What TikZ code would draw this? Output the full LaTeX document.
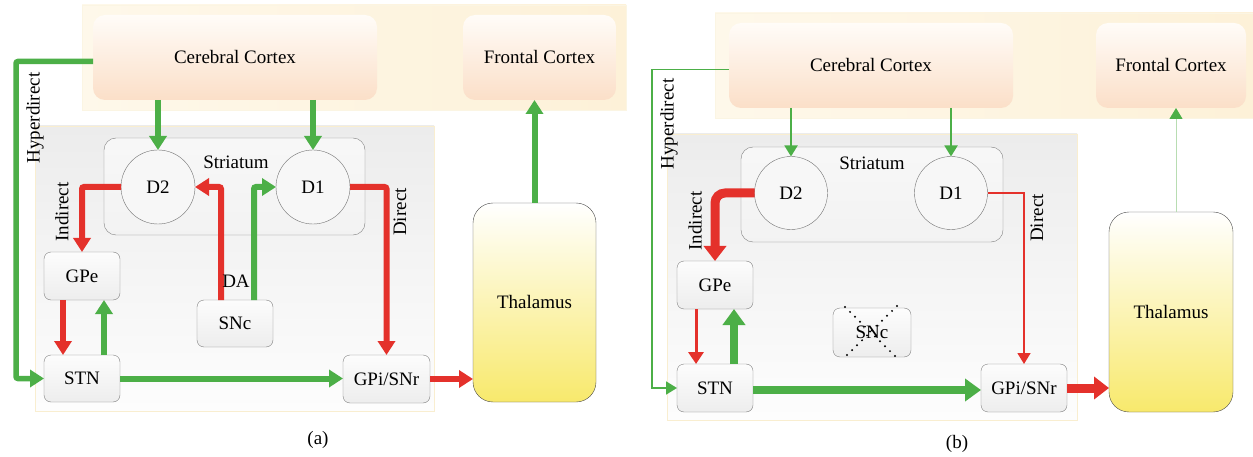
\documentclass[tikz,border=0pt]{standalone}
\usepackage{fontspec}
\setmainfont{Liberation Serif}
\usetikzlibrary{arrows.meta}
\definecolor{gr}{HTML}{4CAF47}
\definecolor{rd}{HTML}{E4312B}
\definecolor{lgr}{HTML}{B8DDB2}
\definecolor{bandL}{HTML}{FEF8EA}
\definecolor{bandR}{HTML}{FDF1D8}
\definecolor{ctxT}{HTML}{FFFCF8}
\definecolor{ctxB}{HTML}{FBDFC8}
\definecolor{thB}{HTML}{F8E96C}
\definecolor{bgT}{HTML}{ECECEC}
\definecolor{bgB}{HTML}{FDFDFD}
\definecolor{bgD}{HTML}{F9EED0}
\newcommand\labfont{\fontsize{19}{22}\selectfont}
\tikzset{
  band/.style={draw=bgD!60, left color=bandL, right color=bandR, inner sep=0pt, outer sep=0pt},
  ctx/.style={rounded corners=12pt, top color=ctxT, bottom color=ctxB, draw=none, inner sep=0pt, outer sep=0pt, font=\labfont},
  bgbox/.style={top color=bgT, bottom color=bgB, draw=bgD, inner sep=0pt, outer sep=0pt},
  stri/.style={rounded corners=12pt, top color=black!3, bottom color=black!5, draw=black!50, inner sep=0pt, outer sep=0pt},
  circ/.style={circle, fill=white!97!black, draw=black!55, inner sep=0pt, outer sep=0pt, minimum size=74pt, font=\labfont},
  bx/.style={rounded corners=7pt, top color=black!1, bottom color=black!7, draw=black!50, inner sep=0pt, outer sep=0pt, font=\labfont},
  thal/.style={rounded corners=20pt, top color=white, bottom color=thB, draw=black!70, inner sep=0pt, outer sep=0pt, font=\labfont},
  lab/.style={font=\labfont, inner sep=0pt},
  ga/.style={draw=gr, line width=6pt, rounded corners=2pt, -{Triangle[length=14pt,width=17pt]}},
  ra/.style={draw=rd, line width=6pt, rounded corners=2pt, -{Triangle[length=14pt,width=17pt]}},
  gthin/.style={draw=gr, line width=1.8pt, -{Triangle[length=11pt,width=13pt]}},
  rthin/.style={draw=rd, line width=1.5pt, -{Triangle[length=11pt,width=13pt]}},
  gfat/.style={draw=gr, line width=8.5pt, -{Triangle[length=16pt,width=22pt]}},
  rfat/.style={draw=rd, line width=9pt, rounded corners=10pt, -{Triangle[length=15pt,width=22pt]}},
}
\begin{document}
\begin{tikzpicture}[x=1pt,y=-1pt]
\useasboundingbox (0,0) rectangle (1253,457);
\fill[white] (0,0) rectangle (1253,457);

% ===================== Panel (a) =====================
\node[band, minimum width=544pt, minimum height=105pt] (banda) at (354,57.5) {};
\node[bgbox, minimum width=399pt, minimum height=285pt] (bga) at (234.5,268.5) {};
\node[ctx, minimum width=284pt, minimum height=85pt] (cca) at (235,57.5) {Cerebral Cortex};
\node[ctx, minimum width=153pt, minimum height=85pt] (fca) at (539.5,57.5) {Frontal Cortex};
\node[stri, minimum width=261pt, minimum height=97pt] (stra) at (234.5,186.5) {};
\node[lab] (strla) at (236,162) {Striatum};
\node[circ] (d2a) at (158,187) {D2};
\node[circ] (d1a) at (313,187) {D1};
\node[bx, minimum width=76pt, minimum height=48pt] (gpea) at (82,276) {GPe};
\node[bx, minimum width=76pt, minimum height=47pt] (snca) at (235,323.5) {SNc};
\node[bx, minimum width=76pt, minimum height=47pt] (stna) at (82,378.5) {STN};
\node[bx, minimum width=87pt, minimum height=48pt] (gpia) at (386.5,379) {GPi/SNr};
\node[thal, minimum width=123pt, minimum height=199pt] (thala) at (534.5,302.5) {Thalamus};

\coordinate (hya) at (16,200);
\draw[ga, line width=5.5pt] ([yshift=-4pt]cca.west) -| (hya) |- (stna.west);
\draw[ga] (d2a |- cca.south) -- (d2a.north);
\draw[ga] (d1a |- cca.south) -- (d1a.north);
\draw[ra] (d2a.west) -| (gpea.north);
\draw[ra] (d1a.east) -| (gpia.north);
\draw[ra] ([xshift=-14pt]snca.north) |- (d2a.east);
\draw[ga] ([xshift=19pt]snca.north) |- (d1a.west);
\draw[ra] ([xshift=-19pt]gpea.south) -- ([xshift=-19pt]stna.north);
\draw[ga] ([xshift=22pt]stna.north) -- ([xshift=22pt]gpea.south);
\draw[ga] (stna.east) -- (stna.east -| gpia.west);
\draw[ra] (gpia.east) -- (gpia.east -| thala.west);
\draw[ga] (thala.north) -- (thala.north |- fca.south);

\node[lab, rotate=90] (hyla) at (35,118) {Hyperdirect};
\node[lab, rotate=90] (inla) at (62,212) {Indirect};
\node[lab, rotate=90] (dila) at (400,212) {Direct};
\node[lab] (dala) at (236,281) {DA};
\node[lab] (capa) at (318,440) {(a)};

% ===================== Panel (b) =====================
\node[band, minimum width=538pt, minimum height=105pt] (bandb) at (984,65.5) {};
\node[bgbox, minimum width=410pt, minimum height=286pt] (bgb) at (872,277) {};
\node[ctx, minimum width=284pt, minimum height=85pt] (ccb) at (871,65.5) {Cerebral Cortex};
\node[ctx, minimum width=150pt, minimum height=85pt] (fcb) at (1171,65.5) {Frontal Cortex};
\node[stri, minimum width=262pt, minimum height=95pt] (strb) at (872,194.5) {};
\node[lab] (strlb) at (872,163) {Striatum};
\node[circ, minimum size=73pt] (d2b) at (791,193) {D2};
\node[circ, minimum size=73pt] (d1b) at (951,193) {D1};
\node[bx, minimum width=76pt, minimum height=48pt] (gpeb) at (715,285) {GPe};
\node[bx, minimum width=78pt, minimum height=49pt] (sncb) at (872,332.5) {SNc};
\node[bx, minimum width=76pt, minimum height=48pt] (stnb) at (715,388) {STN};
\node[bx, minimum width=86pt, minimum height=48pt] (gpib) at (1024,388) {GPi/SNr};
\node[thal, minimum width=124pt, minimum height=200pt] (thalb) at (1171,312) {Thalamus};

\draw[black, line width=2.2pt, dash pattern=on 0pt off 7pt, line cap=round]
  ([xshift=12pt,yshift=1pt]sncb.north west) -- ([xshift=-13pt,yshift=-2pt]sncb.south east);
\draw[black, line width=2.2pt, dash pattern=on 0pt off 7pt, line cap=round]
  ([xshift=-14pt,yshift=2pt]sncb.north east) -- ([xshift=10pt,yshift=-2pt]sncb.south west);

\coordinate (hyb) at (652,200);
\draw[gthin] ([yshift=-4pt]ccb.west) -| (hyb) |- (stnb.west);
\draw[gthin] (d2b |- ccb.south) -- (d2b.north);
\draw[gthin] (d1b |- ccb.south) -- (d1b.north);
\draw[rfat] (d2b.west) -| (gpeb.north);
\draw[rthin] (d1b.east) -| (gpib.north);
\draw[rd, line width=3pt, -{Triangle[length=12pt,width=15pt]}] ([xshift=-19pt]gpeb.south) -- ([xshift=-19pt]stnb.north);
\draw[gfat] ([xshift=19pt]stnb.north) -- ([xshift=19pt]gpeb.south);
\draw[gfat] ([yshift=-2pt]stnb.east) -- ([yshift=-2pt]stnb.east -| gpib.west);
\draw[rfat, rounded corners=0pt] (gpib.east) -- (gpib.east -| thalb.west);
\draw[lgr, line width=1pt, -{Triangle[length=11pt,width=13pt,color=gr]}] ([xshift=5pt]thalb.north) -- ([xshift=5pt]thalb.north |- fcb.south);

\node[lab, rotate=90] (hylb) at (669,124) {Hyperdirect};
\node[lab, rotate=90] (inlb) at (695,221) {Indirect};
\node[lab, rotate=90] (dilb) at (1037,218) {Direct};
\node[lab] (capb) at (957,444) {(b)};
\end{tikzpicture}
\end{document}
